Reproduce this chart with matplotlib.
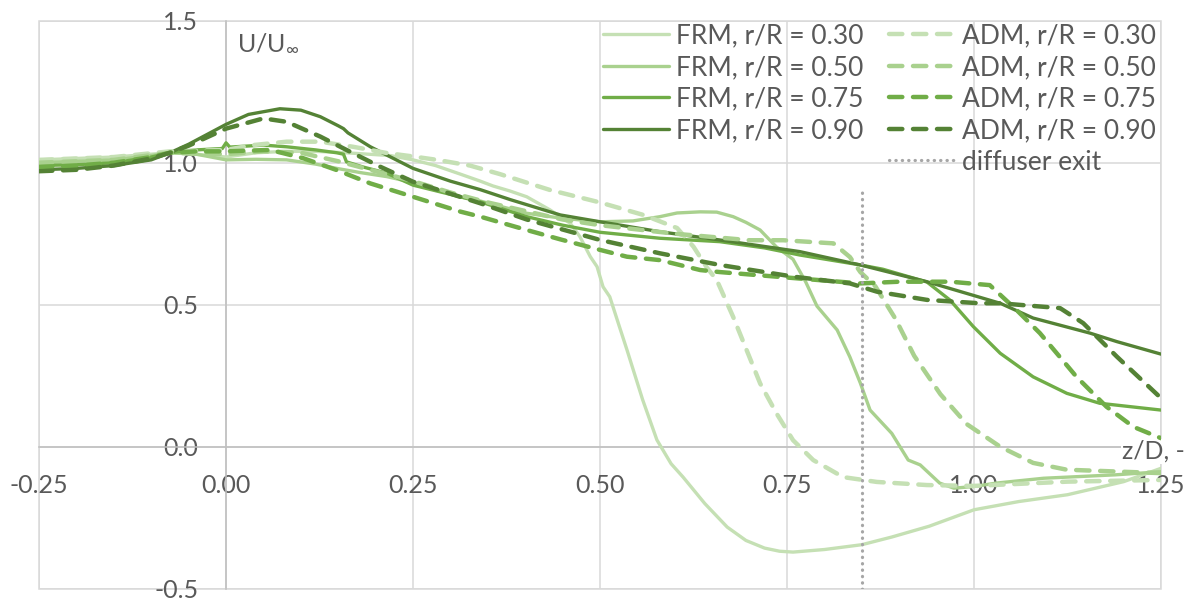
import matplotlib
matplotlib.use('Agg')
import matplotlib.pyplot as plt
from matplotlib.lines import Line2D
from matplotlib.patches import Rectangle

plt.rcParams['font.family'] = ['Lato', 'DejaVu Sans']
plt.rcParams['mathtext.fontset'] = 'custom'
plt.rcParams['mathtext.rm'] = 'Lato'
plt.rcParams['mathtext.it'] = 'Lato'

# z/D positions and U/Uinf values
frm30_z = [-0.25, -0.2, -0.15, -0.1, -0.075, -0.04, 0.0, 0.04, 0.08, 0.12, 0.16, 0.19, 0.22, 0.25,
           0.28, 0.313, 0.34, 0.357, 0.38, 0.402, 0.433, 0.46, 0.473, 0.487, 0.496, 0.504, 0.513,
           0.525, 0.536, 0.557, 0.576, 0.595, 0.611, 0.64, 0.67, 0.695, 0.72, 0.74, 0.758, 0.8,
           0.85, 0.89, 0.94, 1.0, 1.06, 1.125, 1.2, 1.25]
frm30_u = [1.01, 1.015, 1.02, 1.03, 1.035, 1.03, 1.02, 1.035, 1.04, 1.04, 1.035, 1.03, 1.025, 1.01,
           0.99, 0.96, 0.935, 0.918, 0.9, 0.88, 0.834, 0.787, 0.74, 0.669, 0.634, 0.563, 0.528,
           0.43, 0.341, 0.165, 0.024, -0.06, -0.107, -0.2, -0.283, -0.33, -0.357, -0.368, -0.371, -0.362,
           -0.345, -0.318, -0.28, -0.222, -0.193, -0.169, -0.123, -0.076]

frm50_z = [-0.25, -0.2, -0.15, -0.1, -0.075, -0.04, 0.0, 0.04, 0.081, 0.12, 0.148, 0.18, 0.215, 0.25,
           0.313, 0.34, 0.402, 0.447, 0.5, 0.544, 0.58, 0.603, 0.634, 0.656, 0.678, 0.695, 0.714,
           0.736, 0.758, 0.775, 0.79, 0.817, 0.834, 0.848, 0.861, 0.89, 0.912, 0.928, 0.954, 0.973,
           1.0, 1.03, 1.093, 1.189, 1.25]
frm50_u = [1.0, 1.005, 1.01, 1.025, 1.035, 1.03, 1.01, 1.012, 1.01, 0.995, 0.98, 0.965, 0.951, 0.93,
           0.88, 0.865, 0.822, 0.805, 0.792, 0.795, 0.81, 0.823, 0.827, 0.826, 0.81, 0.79, 0.763,
           0.703, 0.66, 0.58, 0.495, 0.411, 0.316, 0.224, 0.129, 0.047, -0.047, -0.064, -0.128, -0.146,
           -0.14, -0.128, -0.111, -0.099, -0.088]

frm75_z = [-0.25, -0.2, -0.15, -0.1, -0.075, -0.04, -0.005, 0.0, 0.005, 0.05, 0.081, 0.12, 0.148,
           0.157, 0.161, 0.183, 0.215, 0.25, 0.313, 0.34, 0.402, 0.45, 0.5, 0.58, 0.66, 0.72, 0.767,
           0.848, 0.878, 0.937, 0.968, 0.999, 1.035, 1.079, 1.124, 1.168, 1.25]
frm75_u = [0.99, 0.993, 1.0, 1.02, 1.035, 1.045, 1.05, 1.07, 1.055, 1.062, 1.056, 1.045, 1.035,
           1.03, 1.003, 0.985, 0.963, 0.921, 0.88, 0.862, 0.81, 0.78, 0.755, 0.734, 0.722, 0.70, 0.675,
           0.64, 0.625, 0.58, 0.516, 0.423, 0.329, 0.246, 0.188, 0.153, 0.129]

frm90_z = [-0.25, -0.2, -0.15, -0.1, -0.075, -0.05, -0.025, 0.0, 0.03, 0.072, 0.1, 0.126, 0.15,
           0.157, 0.163, 0.193, 0.25, 0.3, 0.34, 0.38, 0.447, 0.5, 0.58, 0.66, 0.767, 0.848, 0.937,
           1.035, 1.079, 1.155, 1.191, 1.25]
frm90_u = [0.975, 0.98, 0.99, 1.01, 1.035, 1.065, 1.1, 1.135, 1.17, 1.19, 1.185, 1.162, 1.13,
           1.12, 1.105, 1.056, 0.98, 0.935, 0.905, 0.87, 0.816, 0.792, 0.757, 0.728, 0.687, 0.64, 0.581,
           0.505, 0.453, 0.4, 0.37, 0.326]

adm30_z = [-0.25, -0.15, -0.075, 0.0, 0.036, 0.081, 0.126, 0.17, 0.215, 0.25, 0.282, 0.326, 0.366,
           0.433, 0.5, 0.558, 0.603, 0.625, 0.643, 0.656, 0.678, 0.696, 0.714, 0.736, 0.758, 0.785,
           0.825, 0.87, 0.937, 1.0, 1.125, 1.25]
adm30_u = [1.01, 1.02, 1.04, 1.045, 1.062, 1.074, 1.074, 1.056, 1.034, 1.022, 1.01, 0.99, 0.96,
           0.904, 0.86, 0.816, 0.77, 0.704, 0.63, 0.587, 0.457, 0.34, 0.223, 0.117, 0.023, -0.047,
           -0.107, -0.124, -0.135, -0.138, -0.123, -0.117]

adm50_z = [-0.25, -0.15, -0.075, 0.0, 0.05, 0.1, 0.15, 0.2, 0.25, 0.3, 0.35, 0.4, 0.45, 0.5, 0.6,
           0.7, 0.745, 0.812, 0.834, 0.848, 0.868, 0.895, 0.92, 0.955, 0.99, 1.035, 1.079, 1.124, 1.25]
adm50_u = [1.0, 1.01, 1.035, 1.03, 1.04, 1.035, 1.005, 0.97, 0.935, 0.895, 0.86, 0.83, 0.8, 0.78, 0.75,
           0.727, 0.727, 0.716, 0.668, 0.615, 0.565, 0.45, 0.32, 0.185, 0.08, 0.0, -0.057, -0.081, -0.093]

adm75_z = [-0.25, -0.2, -0.15, -0.1, -0.075, -0.04, 0.0, 0.059, 0.103, 0.148, 0.193, 0.25, 0.313,
           0.34, 0.402, 0.447, 0.5, 0.536, 0.58, 0.634, 0.66, 0.758, 0.848, 0.9, 0.968, 1.021, 1.057,
           1.088, 1.137, 1.177, 1.213, 1.25]
adm75_u = [0.985, 0.99, 1.0, 1.02, 1.035, 1.04, 1.04, 1.045, 1.016, 0.974, 0.927, 0.88, 0.828,
           0.81, 0.763, 0.73, 0.693, 0.669, 0.657, 0.622, 0.615, 0.594, 0.575, 0.581, 0.581, 0.569, 0.481,
           0.4, 0.246, 0.141, 0.07, 0.03]

adm90_z = [-0.25, -0.2, -0.15, -0.1, -0.075, -0.05, 0.0, 0.05, 0.081, 0.126, 0.161, 0.206, 0.25,
           0.34, 0.402, 0.5, 0.58, 0.66, 0.758, 0.834, 0.87, 0.937, 1.008, 1.035, 1.115, 1.146, 1.191, 1.25]
adm90_u = [0.97, 0.975, 0.99, 1.015, 1.035, 1.06, 1.12, 1.156, 1.144, 1.092, 1.045, 0.986, 0.933,
           0.857, 0.80, 0.728, 0.681, 0.64, 0.599, 0.575, 0.546, 0.517, 0.505, 0.505, 0.488, 0.435, 0.317, 0.171]

diff_z = [0.85, 0.85]
diff_u = [-0.5, 0.9]

x_ticks = [-0.25, 0.0, 0.25, 0.5, 0.75, 1.0, 1.25]
y_ticks = [-0.5, 0.0, 0.5, 1.0, 1.5]

colors = ['#C5E0B4', '#A9D18E', '#70AD47', '#548235']
radii = ['0.30', '0.50', '0.75', '0.90']
frm = [(frm30_z, frm30_u), (frm50_z, frm50_u), (frm75_z, frm75_u), (frm90_z, frm90_u)]
adm = [(adm30_z, adm30_u), (adm50_z, adm50_u), (adm75_z, adm75_u), (adm90_z, adm90_u)]

grey = '#595959'
solid_lw = 2.4
dash_lw = 3.2
dash = (3.0, 2.4)

fig = plt.figure(figsize=(11.94, 6.0), dpi=100)
ax = fig.add_axes([0.0327, 0.0188, 0.9397, 0.9467])

handles = []
for (z, u), c, r in zip(frm, colors, radii):
    ln, = ax.plot(z, u, color=c, lw=solid_lw, solid_joinstyle='round', solid_capstyle='round',
                  label='FRM, r/R = ' + r, zorder=3)
    handles.append(ln)
handles.append(Line2D([], [], color='none', label=' '))
for (z, u), c, r in zip(adm, colors, radii):
    ln, = ax.plot(z, u, color=c, lw=dash_lw, dashes=dash, dash_capstyle='round',
                  dash_joinstyle='round', label='ADM, r/R = ' + r, zorder=4)
    handles.append(ln)
ln, = ax.plot(diff_z, diff_u, color='#A6A6A6', lw=2.3, linestyle=(0, (0.1, 1.9)),
              dash_capstyle='round', label='diffuser exit', zorder=5)
handles.append(ln)

ax.set_xlim(-0.25, 1.25)
ax.set_ylim(-0.5, 1.5)
ax.set_xticks(x_ticks)
ax.set_yticks(y_ticks)
ax.set_xticklabels(['%.2f' % v for v in x_ticks])
ax.set_yticklabels(['%.1f' % v for v in y_ticks])
ax.tick_params(length=0, labelsize=18, labelcolor=grey, pad=20)

ax.grid(color='#D9D9D9', lw=1.1)
ax.set_axisbelow(True)
ax.spines['top'].set_visible(False)
ax.spines['right'].set_visible(False)
ax.spines['left'].set_position(('data', 0))
ax.spines['bottom'].set_position(('data', 0))
ax.spines['left'].set_color('#BFBFBF')
ax.spines['bottom'].set_color('#BFBFBF')
ax.spines['left'].set_linewidth(1.1)
ax.spines['bottom'].set_linewidth(1.1)
ax.spines['left'].set_zorder(1)
ax.spines['bottom'].set_zorder(1)
ax.add_patch(Rectangle((0, 0), 1, 1, transform=ax.transAxes, fill=False,
                       ec='#D9D9D9', lw=1.1, clip_on=False, zorder=0))

ax.text(0.1765, 0.9607, r'U/U$_{\infty}$', transform=ax.transAxes, ha='left', va='center',
        fontsize=18, color=grey)
ax.text(1.0214, 0.2415, 'z/D, -', transform=ax.transAxes, ha='right', va='center',
        fontsize=18, color=grey, clip_on=False,
        bbox=dict(boxstyle='square,pad=0.05', fc='white', ec='none'))

leg = ax.legend(handles=handles, ncol=2, loc='upper right', bbox_to_anchor=(0.998, 1.0),
                frameon=False, fontsize=19, handlelength=2.5, handletextpad=0.27,
                columnspacing=0.95, labelspacing=0.25, borderpad=0.1, borderaxespad=0)
for t in leg.get_texts():
    t.set_color(grey)

fig.savefig('out.png', dpi=100)
